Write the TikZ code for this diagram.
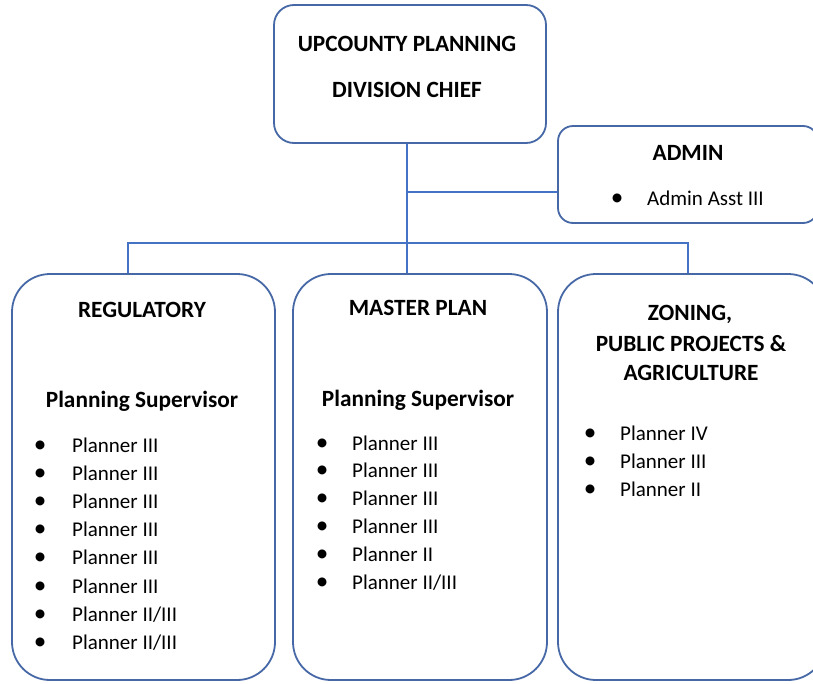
\documentclass[tikz,border=0pt]{standalone}
\usepackage{fontspec}
\setmainfont{Carlito}
\definecolor{boxline}{RGB}{70,104,166}
\definecolor{linkline}{RGB}{68,114,196}
\tikzset{
  unitbox/.style={draw=boxline, line width=1.8pt, rounded corners=#1, inner sep=0pt, fill=white},
  link/.style={draw=linkline, line width=1.5pt},
  head/.style={font=\fontsize{23.3}{28}\selectfont\bfseries, anchor=base, inner sep=0pt},
  item/.style={font=\fontsize{21}{25}\selectfont, anchor=base west, inner sep=0pt},
}
% bullet centred on the anchor point, text indented after it
\newcommand\bul[1][30pt]{\makebox[0pt]{\scalebox{1.2}{\textbullet}}\hspace{#1}}

\begin{document}
\begin{tikzpicture}[x=1pt,y=-1pt]
\useasboundingbox (0,0) rectangle (813,683);
\clip (0,0) rectangle (813,683);

% connectors
\coordinate (tee) at (407,192);
\coordinate (bus) at (407,243);
\coordinate (busL) at (128,243);
\coordinate (busR) at (688,243);

% boxes
\node[unitbox=20pt, minimum width=272pt, minimum height=138pt] (chief) at (410,74) {};
\node[unitbox=15pt, minimum width=260pt, minimum height=97pt] (admin) at (688,174.5) {};
\node[unitbox=38pt, minimum width=263pt, minimum height=406pt] (reg) at (143.5,477) {};
\node[unitbox=38pt, minimum width=254pt, minimum height=406pt] (mast) at (420,477) {};
\node[unitbox=38pt, minimum width=268pt, minimum height=406pt] (zone) at (692,477) {};

\draw[link] (chief.south -| bus) -- (bus) -- (bus |- mast.north);
\draw[link] (tee) -- (tee -| admin.west);
\draw[link] (reg.north -| busL) -- (busL) -- (busR) -- (zone.north -| busR);

% division chief
\node[head] (chiefA) at (407,51) {UPCOUNTY PLANNING};
\node[head] (chiefB) at (407,97) {DIVISION CHIEF};

% admin
\node[head] (adminT) at (688,160) {ADMIN};
\node[item] (admin0) at (617,205) {\bul Admin Asst III};

% regulatory
\node[head] (regT) at (142,317) {REGULATORY};
\node[head] (regS) at (142,407) {Planning Supervisor};
\foreach \t [count=\i from 0] in {Planner III,Planner III,Planner III,Planner III,Planner III,Planner III,Planner II/III,Planner II/III}
  \node[item] (reg\i) at (40,452+28.2*\i) {\bul[32pt]\t};

% master plan
\node[head] (mastT) at (418,315) {MASTER PLAN};
\node[head] (mastS) at (418,406.5) {Planning Supervisor};
\foreach \t [count=\i from 0] in {Planner III,Planner III,Planner III,Planner III,Planner II,Planner II/III}
  \node[item] (mast\i) at (322,450+27.9*\i) {\bul\t};

% zoning, public projects & agriculture
\node[head] (zoneA) at (690,320) {ZONING,};
\node[head] (zoneB) at (691,351) {PUBLIC PROJECTS \&};
\node[head] (zoneC) at (691,380) {AGRICULTURE};
\foreach \t [count=\i from 0] in {Planner IV,Planner III,Planner II}
  \node[item] (zone\i) at (590,440+28*\i) {\bul\t};
\end{tikzpicture}
\end{document}
